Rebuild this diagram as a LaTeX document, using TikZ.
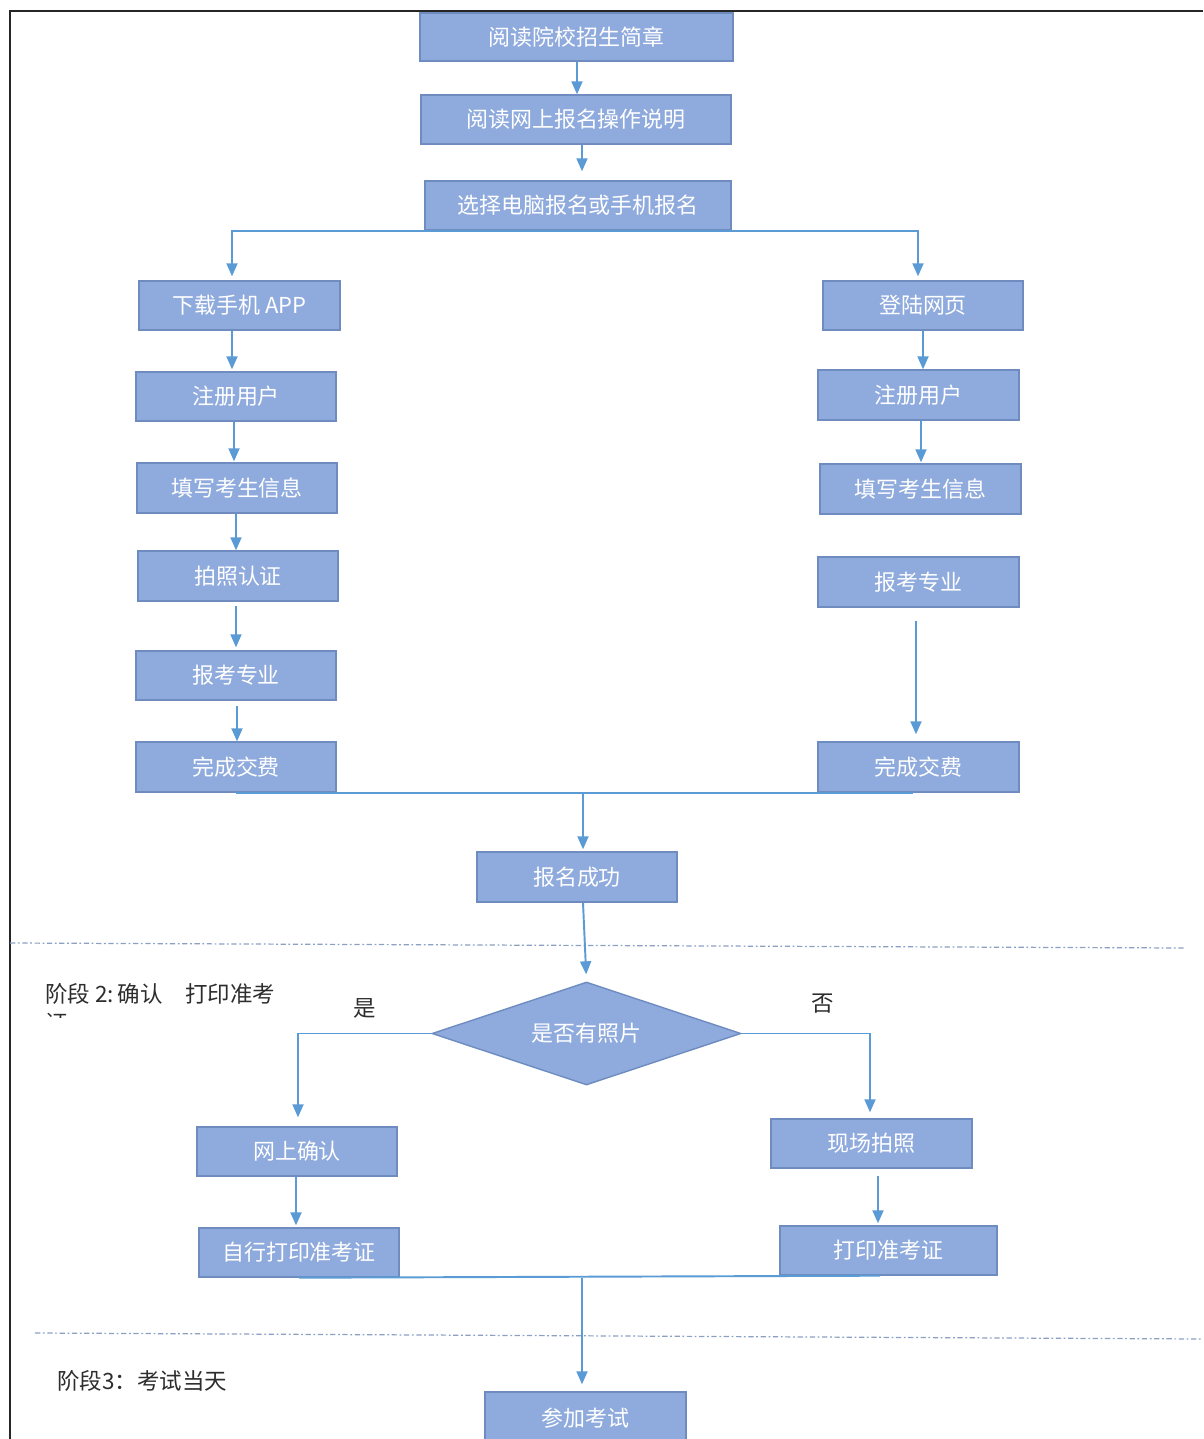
\documentclass[tikz,border=0pt]{standalone}
\usepackage{fontspec}
\setmainfont{Noto Sans CJK SC}
\usetikzlibrary{arrows.meta,shapes.geometric}
\definecolor{boxfill}{RGB}{143,170,220}
\definecolor{boxline}{RGB}{110,140,192}
\definecolor{arrowc}{RGB}{91,155,213}
\definecolor{stagegray}{RGB}{45,45,45}
\definecolor{dashc}{RGB}{140,160,195}
\newcommand{\boxfont}{\fontsize{12.5pt}{15pt}\selectfont}
\newcommand{\stagefont}{\fontsize{12.8pt}{15pt}\selectfont}
\begin{document}
\begin{tikzpicture}[x=0.02cm,y=-0.02cm,
  box/.style={rectangle, draw=boxline, fill=boxfill, line width=0.8pt, text=white,
    font=\boxfont, minimum width=4cm, minimum height=0.98cm, inner sep=0pt},
  conn/.style={draw=arrowc, line width=1.1pt},
  arr/.style={conn, -{Triangle[length=0.26cm,width=0.22cm]}},
  lbl/.style={font=\stagefont, text=stagegray, inner sep=0pt},
  sep/.style={draw=dashc, line width=0.7pt, dash pattern=on 3pt off 1.5pt on 1pt off 1.5pt}]
\useasboundingbox (0,0) rectangle (1203,1439);
\fill[white] (0,0) rectangle (1203,1439);
% frame
\draw[line width=1.1pt, draw=black!85] (10,1439) -- (10,11) -- (1203,11);

% top boxes
\node[box, minimum width=6.26cm, minimum height=0.96cm] (b1) at (576.5,37) {阅读院校招生简章};
\node[box, minimum width=6.2cm] (b2) at (576,119.5) {阅读网上报名操作说明};
\node[box, minimum width=6.12cm] (b3) at (578,205.5) {选择电脑报名或手机报名};

% left column
\node[box, minimum width=4.02cm] (L1) at (239.5,305.5) {下载手机 APP};
\node[box] (L2) at (236,396.5) {注册用户};
\node[box, minimum height=1cm] (L3) at (237,488) {填写考生信息};
\node[box, minimum height=1cm] (L4) at (238,576) {拍照认证};
\node[box] (L5) at (236,675.5) {报考专业};
\node[box, minimum height=1cm] (L6) at (236,767) {完成交费};

% right column
\node[box] (R1) at (923,305.5) {登陆网页};
\node[box, minimum width=4.02cm, minimum height=1cm] (R2) at (918.5,395) {注册用户};
\node[box, minimum width=4.02cm, minimum height=1cm] (R3) at (920.5,489) {填写考生信息};
\node[box, minimum width=4.02cm, minimum height=1cm] (R4) at (918.5,582) {报考专业};
\node[box, minimum width=4.02cm, minimum height=1cm] (R5) at (918.5,767) {完成交费};

% success
\node[box, minimum height=1cm] (S) at (577,877) {报名成功};

% separators
\coordinate (sepA1) at (10,943);
\coordinate (sepA2) at (1185,948);
\coordinate (sepB1) at (35,1333);
\coordinate (sepB2) at (1203,1339);
\draw[sep] (sepA1) -- (sepA2);
\draw[sep] (sepB1) -- (sepB2);

% stage labels
\node[lbl, anchor=west] (st2) at (45,994) {阶段 2:\,确认\hspace{1em}打印准考};
\begin{scope}
  \clip (40,1009) rectangle (80,1017);
  \node[lbl, anchor=west] (st2b) at (45,1023) {证};
\end{scope}
\node[lbl, anchor=west] (st3) at (57,1381) {阶段3：考试当天};

% decision
\node[diamond, aspect=3, draw=boxline, fill=boxfill, line width=0.8pt, text=white, font=\boxfont,
  minimum width=6.18cm, minimum height=2.06cm, inner sep=0pt] (D) at (586.5,1033.5) {是否有照片};
\node[lbl] (yes) at (365,1008) {是};
\node[lbl] (no) at (823,1004) {否};

% stage 2 boxes
\node[box] (Y1) at (297,1151.5) {网上确认};
\node[box, minimum width=4.02cm] (N1) at (871.5,1143.5) {现场拍照};
\node[box] (Y2) at (299,1252.5) {自行打印准考证};
\node[box, minimum width=4.34cm] (N2) at (888.5,1250.5) {打印准考证};
\node[box, minimum width=4.02cm, minimum height=1.06cm] (E) at (585.5,1418.5) {参加考试};

% connectors top
\draw[arr] (b1.south -| 577,0) -- (b2.north -| 577,0);
\draw[arr, shorten >=0.18cm] (b2.south -| 582,0) -- (b3.north -| 582,0);
\draw[arr, shorten >=0.08cm] (b3.south) -| (L1.north -| 232,0);
\draw[arr, shorten >=0.08cm] (b3.south) -| (R1.north -| 918,0);

% left column connectors
\draw[arr, shorten >=0.04cm] (L1.south -| 232,0) -- (L2.north -| 232,0);
\draw[arr, shorten >=0.02cm] (L2.south -| 234,0) -- (L3.north -| 234,0);
\draw[arr] (L3.south -| 236,0) -- (L4.north -| 236,0);
\draw[arr, shorten <=0.08cm, shorten >=0.06cm] (L4.south -| 236,0) -- (L5.north -| 236,0);
\draw[arr, shorten <=0.1cm] (L5.south -| 237,0) -- (L6.north -| 237,0);

% right column connectors
\draw[arr] (R1.south -| 923,0) -- (R2.north -| 923,0);
\draw[arr, shorten >=0.02cm] (R2.south -| 921,0) -- (R3.north -| 921,0);
\draw[arr, shorten <=0.26cm, shorten >=0.14cm] (R4.south -| 916,0) -- (R5.north -| 916,0);

% merge 1
\draw[conn] (L6.south) -- (R5.south -| 913,0);
\draw[arr, shorten >=0.04cm] (L6.south -| 583,0) -- (S.north -| 583,0);
\draw[arr, shorten >=0.14cm] (S.south -| 583,0) -- (D.north);

% decision branches
\draw[arr, shorten >=0.18cm] (D.west) -| (Y1.north -| 298,0);
\draw[arr, shorten >=0.12cm] (D.east) -| (N1.north -| 870,0);
\draw[arr, shorten >=0.04cm] (Y1.south -| 296,0) -- (Y2.north -| 296,0);
\draw[arr, shorten <=0.14cm, shorten >=0.04cm] (N1.south -| 878,0) -- (N2.north -| 878,0);

% merge 2
\draw[conn] (Y2.south) -- (N2.south -| 880,0);
\draw[arr, shorten >=0.14cm] (Y2.south -| 582,0) -- (E.north -| 582,0);
\end{tikzpicture}
\end{document}
